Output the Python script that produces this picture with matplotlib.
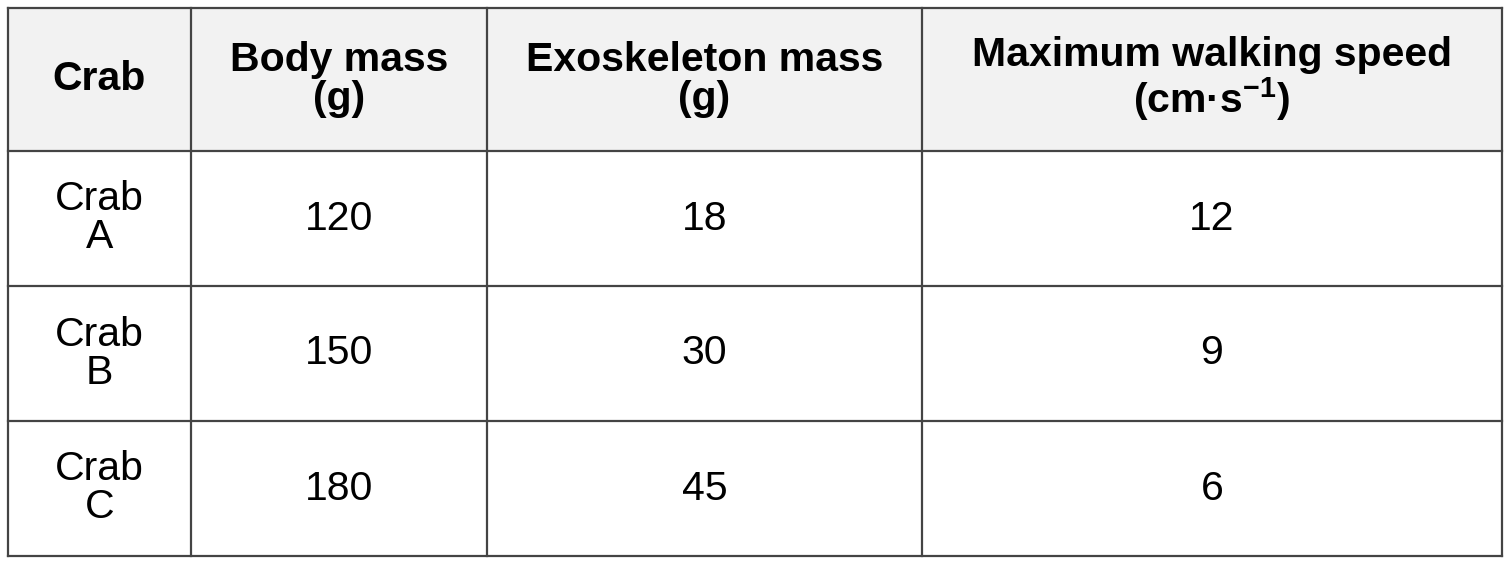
import matplotlib
matplotlib.use("Agg")
import matplotlib.pyplot as plt
from matplotlib.patches import Rectangle

plt.rcParams['font.family'] = ['Liberation Sans', 'DejaVu Sans']
plt.rcParams['mathtext.fontset'] = 'custom'
plt.rcParams['mathtext.rm'] = 'Liberation Sans:bold'
plt.rcParams['mathtext.it'] = 'Liberation Sans:bold'
plt.rcParams['mathtext.bf'] = 'Liberation Sans:bold'

headers = ["Crab", "Body mass\n(g)", "Exoskeleton mass\n(g)", "Maximum walking speed\n(cm·s$^{-1}$)"]
crabs = ["Crab\nA", "Crab\nB", "Crab\nC"]
body_mass = [120, 150, 180]
exo_mass = [18, 30, 45]
speed = [12, 9, 6]

W, H = 1512, 564
fig = plt.figure(figsize=(W/100, H/100), dpi=100)
ax = fig.add_axes([0, 0, 1, 1])
ax.set_xlim(0, W); ax.set_ylim(H, 0); ax.axis('off')

xs = [8, 191, 487, 922, 1502]
ys = [8, 151, 286, 421, 556]
ax.add_patch(Rectangle((xs[0], ys[0]), xs[-1]-xs[0], ys[1]-ys[0], facecolor='#f2f2f2', edgecolor='none'))
lc = '#444444'
for x in xs:
    ax.plot([x, x], [ys[0], ys[-1]], color=lc, lw=1.6)
for y in ys:
    ax.plot([xs[0], xs[-1]], [y, y], color=lc, lw=1.6)

fs = 29.5
for j, h in enumerate(headers):
    ax.text((xs[j]+xs[j+1])/2, (ys[0]+ys[1])/2, h, ha='center', va='center',
            fontsize=fs, fontweight='bold', linespacing=1.05, color='black')
rows = list(zip(crabs, body_mass, exo_mass, speed))
for i, r in enumerate(rows):
    for j, v in enumerate(r):
        ax.text((xs[j]+xs[j+1])/2, (ys[i+1]+ys[i+2])/2, str(v), ha='center', va='center',
                fontsize=fs, linespacing=1.0, color='black')

fig.savefig('out.png', dpi=100, facecolor='white')
